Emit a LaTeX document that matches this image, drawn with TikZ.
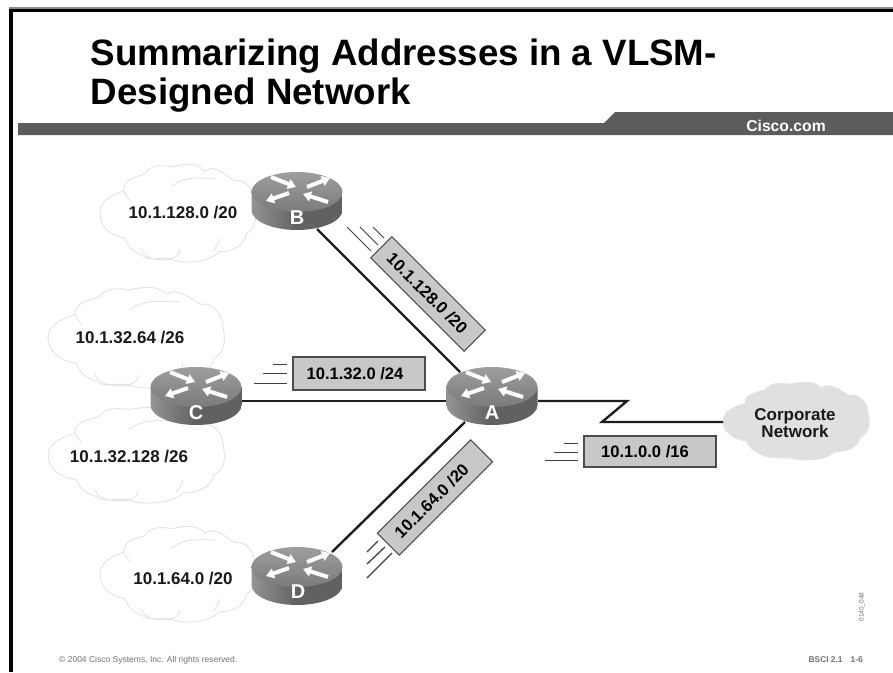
\documentclass[tikz,border=0pt]{standalone}
\usepackage{fontspec}
\setmainfont{Liberation Sans}
\usetikzlibrary{arrows.meta}
\definecolor{barcol}{HTML}{5C5C5C}
\definecolor{boxfill}{HTML}{C8C8C8}
\definecolor{wirecol}{HTML}{1E1E1E}
\tikzset{
  x=1pt,y=-1pt,
  netlabel/.style={font=\bfseries\fontsize{17}{19}\selectfont,text=black!90,inner sep=0pt},
  wire/.style={draw=wirecol,line width=2.4pt,line join=miter},
  speedline/.style={draw=black!75,line width=0.8pt},
  tagbox/.style={draw=black!70,line width=1.1pt,fill=boxfill,inner sep=0pt,font=\bfseries\fontsize{16.6}{19}\selectfont,anchor=center},
  cloudline/.style={draw=black!11,line width=0.9pt},
  routerlabel/.style={font=\bfseries\fontsize{20}{22}\selectfont,text=white,inner sep=0pt},
  flash/.style={draw=white,line width=4pt,-{Triangle[length=8pt,width=10pt]}},
  cloudshape/.pic={
    \path[pic actions,cloudline]
      (0,148) to[out=90,in=200] (72,80)
      to[out=100,in=195] (135,30)
      to[out=60,in=170] (215,8)
      to[out=10,in=130] (315,22)
      to[out=40,in=150] (405,50)
      to[out=10,in=90] (465,115)
      to[out=-80,in=30] (440,208)
      to[out=-100,in=0] (360,262)
      to[out=-140,in=0] (260,293)
      to[out=180,in=-20] (210,283)
      to[out=170,in=-40] (125,272)
      to[out=160,in=-70] (75,222)
      to[out=170,in=-90] (0,148) -- cycle;
    \path[cloudline] (72,80) to[out=-70,in=130] (90,108);
    \path[cloudline] (215,68) to[out=40,in=180] (350,43);
    \path[cloudline] (358,222) to[out=-90,in=65] (340,262);
    \path[cloudline] (125,252) to[out=-80,in=170] (170,285) to[out=-10,in=-90] (240,255);
  },
  routerpic/.pic={
    \path[left color=black!42,right color=black!62,middle color=black!62]
      (-45.5,0) -- (-45.5,18) arc[x radius=45.5,y radius=20,start angle=180,end angle=0]
      -- (45.5,0) -- cycle;
    \path[top color=black!38,bottom color=black!52] (0,0) ellipse[x radius=45.5,y radius=20];
    \path[flash] (-26,-15) -- (-1,-5);
    \path[flash] (10,-5) -- (33,-14);
    \path[flash] (-8,1) -- (-31,9);
    \path[flash] (31,10) -- (6,2);
  }
}
\begin{document}
\begin{tikzpicture}
\useasboundingbox (0,0) rectangle (893,672);
\fill[white] (0,0) rectangle (893,672);
% frame
\fill[black!45] (9,7) rectangle (893,9);
\fill[black] (9,9) rectangle (893,12);
\fill[black] (9,9) rectangle (13,672);
% title and bar
\node[anchor=base west,inner sep=0pt,font=\bfseries\fontsize{36.7}{38}\selectfont] (t1) at (90.5,65.5) {Summarizing Addresses in a VLSM-};
\node[anchor=base west,inner sep=0pt,font=\bfseries\fontsize{36.7}{38}\selectfont] (t2) at (90.5,104) {Designed Network};
\fill[barcol] (18,135) -- (18,123) -- (604,123) -- (615,112) -- (893,112) -- (893,135) -- cycle;
\node[font=\bfseries\fontsize{15.7}{17}\selectfont,text=white,inner sep=0pt] (cisco) at (786,126) {Cisco.com};
% clouds
\pic[xscale=153/460,yscale=98/293] at (100,164) {cloudshape};
\pic[xscale=175/465,yscale=101/293] at (48,287) {cloudshape};
\pic[xscale=175/465,yscale=96/293] at (48,407) {cloudshape};
\pic[xscale=153/460,yscale=96/293] at (100,526) {cloudshape};
\pic[xscale=145/465,yscale=78/293,fill=black!12] at (723,382) {cloudshape};
% coordinates
\coordinate (bport) at (317,229);
\coordinate (abport) at (460,372);
\coordinate (dport) at (332,552);
\coordinate (adport) at (465,422);
\coordinate (cport) at (196,401);
\coordinate (acport) at (492,401);
\coordinate (aright) at (538,401);
\coordinate (z1) at (627,401);
\coordinate (z2) at (602,422);
\coordinate (corp) at (723,422);
% wires
\draw[wire] (bport) -- (abport);
\draw[wire] (cport) -- (acport);
\draw[wire] (dport) -- (adport);
\draw[wire] (aright) -- (z1) -- (z2) -- (corp);
% routers
\pic at (297,192) {routerpic};
\pic at (196,387) {routerpic};
\pic at (492,387) {routerpic};
\pic at (297,567) {routerpic};
\node[routerlabel] (B) at (297,218) {B};
\node[routerlabel] (C) at (196,413) {C};
\node[routerlabel] (A) at (492,413) {A};
\node[routerlabel] (D) at (298,592) {D};
% cloud labels
\node[netlabel] (n1) at (183,213) {10.1.128.0 /20};
\node[netlabel] (n2) at (130,338) {10.1.32.64 /26};
\node[netlabel] (n3) at (129,457) {10.1.32.128 /26};
\node[netlabel] (n4) at (183,578) {10.1.64.0 /20};
\node[font=\bfseries\fontsize{17}{17}\selectfont,align=center,inner sep=0pt,text=black!90] (corpn) at (795,423) {Corporate\\Network};
% tags
\node[tagbox,minimum width=132pt,minimum height=33pt] (tc) at (359,373.5) {\hspace*{-8pt}10.1.32.0 /24};
\node[tagbox,minimum width=132pt,minimum height=31pt] (ta) at (650,451.5) {\hspace*{-10pt}10.1.0.0 /16};
\node[tagbox,minimum width=132pt,minimum height=30pt,rotate=-45] (tb) at (428,294) {\hspace*{-2pt}10.1.128.0 /20};
\node[tagbox,minimum width=132pt,minimum height=31pt,rotate=45] (td) at (435,497.5) {\hspace*{-10pt}10.1.64.0 /20};
% speed lines
\draw[speedline] (273,364) -- (287,364);
\draw[speedline] (263,373) -- (287,373);
\draw[speedline] (254,383) -- (287,383);
\draw[speedline] (564,443) -- (578,443);
\draw[speedline] (554,452) -- (578,452);
\draw[speedline] (545,460) -- (578,460);
\draw[speedline] (347,227) -- (371,251);
\draw[speedline] (360,227) -- (378,245);
\draw[speedline] (373,227) -- (384,238);
\draw[speedline,line width=1.3pt] (367,552) -- (378,541);
\draw[speedline,line width=1.3pt] (367,564) -- (385,547);
\draw[speedline,line width=1.3pt] (367,578) -- (392,553);
% footer
\node[anchor=west,inner sep=0pt,text=black!55,font=\fontsize{8.5}{10}\selectfont] (copy) at (59,660) {© 2004 Cisco Systems, Inc. All rights reserved.};
\node[anchor=east,inner sep=0pt,text=black!55,font=\bfseries\fontsize{8.4}{10}\selectfont] (bsci) at (863,660) {BSCI 2.1\hspace{8pt}1-6};
\node[rotate=90,inner sep=0pt,text=black!55,font=\fontsize{6.5}{8}\selectfont] (code) at (862,607) {0140\_048};
\end{tikzpicture}
\end{document}
